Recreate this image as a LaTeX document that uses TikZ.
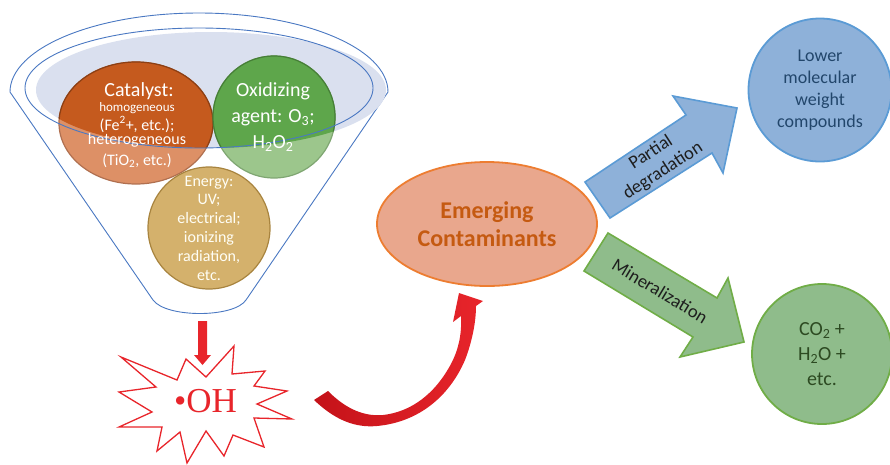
\documentclass[tikz,border=0pt]{standalone}
\usepackage{fontspec}
\setmainfont{Carlito}
\newfontfamily\ohfont{Liberation Serif}
\usetikzlibrary{shapes.geometric}
\definecolor{funnelblue}{HTML}{4A78C2}
\definecolor{funnelfill}{HTML}{DAE0EF}
\definecolor{catdark}{HTML}{C55A1E}
\definecolor{catlight}{HTML}{DD9066}
\definecolor{catborder}{HTML}{8C3F14}
\definecolor{catborderlight}{HTML}{B07050}
\definecolor{oxdark}{HTML}{5EA64B}
\definecolor{oxlight}{HTML}{9CC68C}
\definecolor{oxborder}{HTML}{467F37}
\definecolor{oxborderlight}{HTML}{7FA672}
\definecolor{energy}{HTML}{D4B16C}
\definecolor{energyborder}{HTML}{A8843F}
\definecolor{emfill}{HTML}{E9A78D}
\definecolor{emborder}{HTML}{ED7D31}
\definecolor{emtext}{HTML}{C55A11}
\definecolor{bluefill}{HTML}{8EB1D9}
\definecolor{blueborder}{HTML}{5B9BD5}
\definecolor{bluetext}{HTML}{22466B}
\definecolor{greenfill}{HTML}{8FBC8B}
\definecolor{greenborder}{HTML}{70AD47}
\definecolor{greentext}{HTML}{2D4A22}
\definecolor{redmain}{HTML}{E8252B}
\definecolor{reddark}{HTML}{C41219}
\definecolor{arrowtext}{HTML}{1E1E1E}
\begin{document}
\begin{tikzpicture}[x=1pt,y=-1pt,
  funline/.style={draw=funnelblue, line width=0.9pt},
  blob/.style={ellipse, inner sep=0pt, line width=1.2pt},
  wtxt/.style={text=white, inner sep=0pt, align=center},
  blockarrow/.style={line width=1.6pt, line join=miter},
  arrowlabel/.style={text=arrowtext, inner sep=0pt, align=center, font=\fontsize{18.5}{22}\selectfont},
  endcircle/.style={circle, inner sep=2pt, line width=1.8pt, align=center}]
\useasboundingbox (0,0) rectangle (890,464);
% funnel outline
\draw[funline] (153,300) -- (10,92) arc[start angle=180, end angle=0, x radius=189pt, y radius=79pt] -- (246,300) .. controls (234,318) and (166,318) .. (153,300) -- cycle;
% funnel opening fill
\fill[funnelfill] (211,90) ellipse [x radius=175, y radius=58];
% circles (light parts)
\node[blob, fill=catlight, draw=catborderlight, minimum width=154pt, minimum height=122pt] (cat) at (136,123) {};
\node[blob, fill=oxlight, draw=oxborderlight, minimum width=122pt, minimum height=122pt] (ox) at (274,117) {};
% dark parts inside the opening
\begin{scope}
  \clip (211,90) ellipse [x radius=175, y radius=58];
  \filldraw[fill=catdark, draw=catborder, line width=1.2pt] (136,123) ellipse [x radius=77, y radius=61];
  \filldraw[fill=oxdark, draw=oxborder, line width=1.2pt] (274,117) ellipse [x radius=61, y radius=61];
\end{scope}
\node[blob, fill=energy, draw=energyborder, minimum width=122pt, minimum height=122pt] (en) at (209,228) {};
% inner rim
\draw[funline] (199,88) ellipse [x radius=174, y radius=60];
% texts in circles
\node[wtxt, font=\fontsize{20}{24}\selectfont, anchor=base] (catA) at (139,96) {Catalyst:};
\node[wtxt, font=\fontsize{13}{15}\selectfont, anchor=base] (catB) at (137,111) {homogeneous};
\node[wtxt, font=\fontsize{16}{18}\selectfont, anchor=base] (catC) at (137,130) {(Fe\textsuperscript{2}+, etc.);};
\node[wtxt, font=\fontsize{16}{18}\selectfont, anchor=base] (catD) at (137,144) {heterogeneous};
\node[wtxt, font=\fontsize{16}{18}\selectfont, anchor=base] (catE) at (137,165) {(TiO\textsubscript{2}, etc.)};
\node[wtxt, font=\fontsize{20}{26}\selectfont] (oxT) at (273,117) {Oxidizing\\agent: O\textsubscript{3};\\H\textsubscript{2}O\textsubscript{2}};
\node[wtxt, text=white!96!yellow, font=\fontsize{16}{18.8}\selectfont] (enT) at (209,228) {Energy:\\UV;\\electrical;\\ionizing\\radiation,\\etc.};
% down arrow
\fill[redmain] (198,321) -- (207,321) -- (207,355) -- (211,355) -- (202.5,365) -- (194,355) -- (198,355) -- cycle;
% starburst
\draw[redmain, line width=1.3pt, fill=white, line join=miter]
  (121,357) -- (177,380) -- (186,359) -- (206,377) -- (234,346) -- (232,374) --
  (265,371) -- (254,386) -- (287,391) -- (257,404) -- (292,419) -- (254,418) --
  (264,447) -- (233,435) -- (224,456) -- (206,431) -- (187,463) -- (180,432) --
  (157,451) -- (162,427) -- (119,427) -- (152,412) -- (119,392) -- (156,387) -- cycle;
\node[text=redmain, inner sep=0pt, font=\ohfont\fontsize{35}{40}\selectfont] (oh) at (205.5,401) {•OH};
% curved arrow
\shade[left color=reddark, right color=redmain]
  (328,391) -- (314,400) .. controls (335,420) and (355,428) .. (377,426)
  .. controls (420,422) and (450,395) .. (465,360)
  .. controls (472,342) and (476,322) .. (476,306)
  -- (483,301) -- (459,293) -- (453,322) -- (461,316)
  .. controls (462,335) and (458,350) .. (452,362)
  .. controls (435,395) and (410,412) .. (383,415)
  .. controls (360,417) and (342,405) .. (328,391) -- cycle;
% emerging contaminants
\node[ellipse, inner sep=0pt, minimum width=220pt, minimum height=124pt, fill=emfill, draw=emborder, line width=1.8pt,
  text=emtext, align=center, font=\bfseries\fontsize{24}{28}\selectfont] (em) at (487,224) {Emerging\\Contaminants};
% block arrows
\draw[blockarrow, fill=bluefill, draw=blueborder] (585,182) -- (686,115) -- (673,96) -- (737,108) -- (723,173) -- (712,153) -- (610,218) -- cycle;
\node[arrowlabel, rotate=33] (pdT) at (657,162) {Partial\\degradation};
\draw[blockarrow, fill=greenfill, draw=greenborder] (608,233) -- (717,298) -- (728,278) -- (744,342) -- (680,357) -- (693,337) -- (584,271) -- cycle;
\node[arrowlabel, rotate=-31] (minT) at (660,291) {Mineralization};
% end circles
\node[endcircle, minimum size=143pt, fill=bluefill, draw=blueborder, text=bluetext, font=\fontsize{18}{21.8}\selectfont] (low) at (820,90) {Lower\\molecular\\weight\\compounds};
\node[endcircle, minimum size=140pt, fill=greenfill, draw=greenborder, text=greentext, font=\fontsize{20}{25}\selectfont] (co) at (822,354) {CO\textsubscript{2} +\\H\textsubscript{2}O +\\etc.};
\end{tikzpicture}
\end{document}
